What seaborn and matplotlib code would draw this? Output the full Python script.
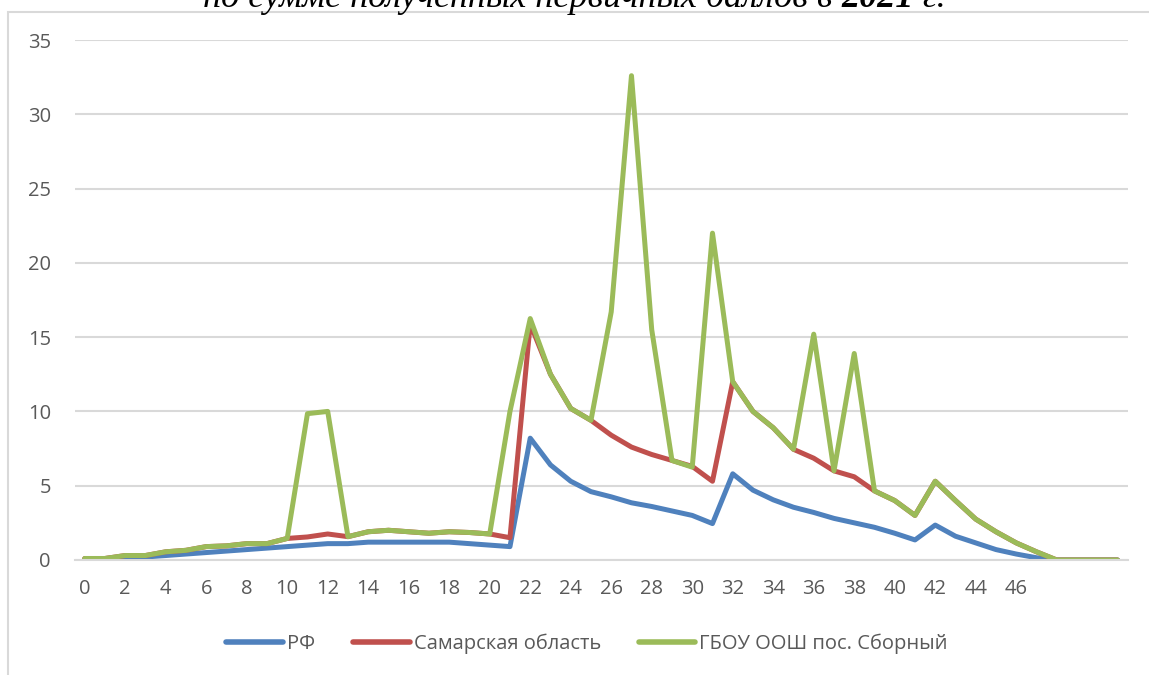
import numpy as np
import pandas as pd
import seaborn as sns
import matplotlib.pyplot as plt
from matplotlib.patches import Rectangle

# primary score categories 0..51 (labels only up to 46 are shown)
scores = list(range(52))

rf = [0.05, 0.1, 0.15, 0.2, 0.3, 0.4, 0.5, 0.6, 0.7, 0.8,
      0.9, 1.0, 1.1, 1.1, 1.2, 1.2, 1.2, 1.2, 1.2, 1.1,
      1.0, 0.9, 8.2, 6.4, 5.3, 4.6, 4.25, 3.85, 3.6, 3.3,
      3.0, 2.45, 5.8, 4.7, 4.05, 3.55, 3.2, 2.8, 2.5, 2.2,
      1.8, 1.35, 2.35, 1.6, 1.15, 0.7, 0.4, 0.15, 0, 0,
      0, 0]

samara = [0.1, 0.1, 0.3, 0.3, 0.55, 0.65, 0.9, 0.95, 1.1, 1.1,
          1.45, 1.55, 1.75, 1.57, 1.9, 2.0, 1.9, 1.8, 1.9, 1.85,
          1.75, 1.5, 15.9, 12.5, 10.2, 9.4, 8.4, 7.6, 7.1, 6.7,
          6.3, 5.3, 12.0, 10.0, 8.9, 7.45, 6.85, 6.0, 5.6, 4.65,
          4.0, 3.0, 5.3, 4.0, 2.75, 1.9, 1.15, 0.55, 0, 0,
          0, 0]

school = [0.1, 0.1, 0.3, 0.3, 0.55, 0.65, 0.9, 0.95, 1.1, 1.1,
          1.45, 9.85, 10.0, 1.57, 1.9, 2.0, 1.9, 1.8, 1.9, 1.85,
          1.75, 10.0, 16.25, 12.5, 10.2, 9.4, 16.7, 32.6, 15.5, 6.7,
          6.25, 22.0, 12.0, 10.0, 8.9, 7.45, 15.2, 6.0, 13.9, 4.65,
          4.0, 3.0, 5.3, 4.0, 2.75, 1.9, 1.15, 0.55, 0, 0,
          0, 0]

series_names = ['РФ', 'Самарская область', 'ГБОУ ООШ пос. Сборный']
colors = ['#4F81BD', '#C0504D', '#9BBB59']

df = pd.concat([
    pd.DataFrame({'score': scores, 'pct': vals, 'series': name})
    for name, vals in zip(series_names, [rf, samara, school])
], ignore_index=True)

sns.set_theme(style='white')
plt.rcParams['font.family'] = ['Open Sans', 'DejaVu Sans']

fig = plt.figure(figsize=(11.49, 6.75), dpi=100)
ax = fig.add_axes([0.0649, 0.1704, 0.9165, 0.7703])

sns.lineplot(data=df, x='score', y='pct', hue='series', hue_order=series_names,
             palette=colors, linewidth=3.6, sort=False, ax=ax,
             solid_capstyle='round', solid_joinstyle='round')

ax.set_xlim(-0.5, 51.5)
ax.set_ylim(0, 35)
ax.set_yticks(range(0, 36, 5))
ax.set_xticks(range(0, 47, 2))
ax.set_xticklabels([str(v) for v in range(0, 47, 2)])
ax.yaxis.grid(True, color='#D9D9D9', linewidth=1.5)
ax.set_axisbelow(True)
for s in ax.spines.values():
    s.set_visible(False)
ax.spines['bottom'].set_visible(True)
ax.spines['bottom'].set_color('#D9D9D9')
ax.spines['bottom'].set_linewidth(1.5)
ax.tick_params(axis='both', length=0, labelsize=14.5, labelcolor='#595959')
ax.tick_params(axis='y', pad=17)
ax.tick_params(axis='x', pad=14)
ax.set_xlabel('')
ax.set_ylabel('')

leg = ax.legend(loc='center', bbox_to_anchor=(0.511, 0.046), bbox_transform=fig.transFigure,
                ncol=3, frameon=False, fontsize=14.5, labelcolor='#595959',
                handlelength=2.8, handletextpad=0.2, columnspacing=1.9)
for h in leg.get_lines():
    h.set_linewidth(4.0)
    h.set_solid_capstyle('round')

# outer chart frame
fig.patches.append(Rectangle((8 / 1149, -0.1), 1.2, (675 - 12) / 675 + 0.1,
                             transform=fig.transFigure, fill=False,
                             edgecolor='#D9D9D9', linewidth=1.5))

# heading above the chart, cut by the top edge as in the source; year in bold
parts = [('по сумме полученных первичных баллов в ', 'normal'),
         ('2021', 'bold'),
         (' г.', 'normal')]
title_kw = dict(va='baseline', fontsize=26, style='italic',
                family=['Liberation Serif', 'DejaVu Serif'], color='black')
renderer = fig.canvas.get_renderer()
texts = [fig.text(0, 0.9896, s, weight=w, **title_kw) for s, w in parts]
widths = [t.get_window_extent(renderer).width for t in texts]
x = 574 - sum(widths) / 2
for t, w in zip(texts, widths):
    t.set_x(x / 1149)
    x += w

fig.savefig('out.png', dpi=100)
